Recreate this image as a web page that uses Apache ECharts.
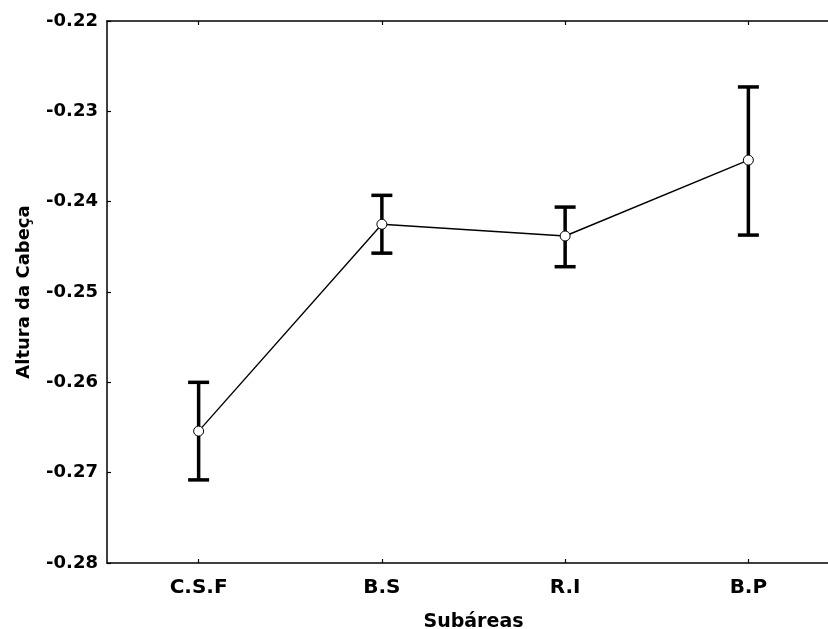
<!DOCTYPE html>
<html>
<head>
<meta charset="utf-8">
<style>
  html, body { margin: 0; padding: 0; background: #fff; }
  #chart { width: 828px; height: 629px; }
</style>
<script src="https://cdn.jsdelivr.net/npm/echarts@6/dist/echarts.min.js"></script>
</head>
<body>
<div id="chart"></div>
<script>
// Subareas along the horizontal axis
const categories = ['C.S.F', 'B.S', 'R.I', 'B.P'];
// Mean head height per subarea
const means = [-0.2654, -0.2425, -0.2438, -0.2354];
// Error-bar limits (upper and lower)
const upper = [-0.2600, -0.2393, -0.2406, -0.2273];
const lower = [-0.2708, -0.2457, -0.2472, -0.2437];

const FONT = '"DejaVu Sans", sans-serif';

const errorData = categories.map((c, i) => [i, lower[i], upper[i]]);

const chart = echarts.init(document.getElementById('chart'), null, { renderer: 'canvas' });

const axisLine = { show: true, lineStyle: { color: '#000', width: 1.5 } };

chart.setOption({
  animation: false,
  backgroundColor: '#fff',
  grid: { left: 107, top: 21, width: 733, height: 542, containLabel: false, outerBoundsMode: 'none' },
  xAxis: [
    {
      type: 'category',
      data: categories,
      position: 'bottom',
      boundaryGap: true,
      axisLine: axisLine,
      axisTick: { show: true, inside: true, length: 4, alignWithLabel: true, lineStyle: { color: '#000', width: 1.2 } },
      axisLabel: { color: '#000', fontFamily: FONT, fontWeight: 'bold', fontSize: 20, margin: 15 },
      splitLine: { show: false },
      name: 'Subáreas',
      nameLocation: 'middle',
      nameGap: 50,
      nameTextStyle: { color: '#000', fontFamily: FONT, fontWeight: 'bold', fontSize: 19 }
    },
    {
      type: 'category',
      data: categories,
      position: 'top',
      boundaryGap: true,
      axisLine: axisLine,
      axisTick: { show: true, inside: true, length: 4, alignWithLabel: true, lineStyle: { color: '#000', width: 1.2 } },
      axisLabel: { show: false },
      splitLine: { show: false }
    }
  ],
  yAxis: {
    type: 'value',
    min: -0.28,
    max: -0.22,
    interval: 0.01,
    axisLine: axisLine,
    axisTick: { show: true, inside: true, length: 4, lineStyle: { color: '#000', width: 1.2 } },
    axisLabel: {
      color: '#000', fontFamily: FONT, fontWeight: 'bold', fontSize: 18, margin: 9,
      formatter: v => v.toFixed(2)
    },
    splitLine: { show: false },
    name: 'Altura da Cabeça',
    nameLocation: 'middle',
    nameRotate: 90,
    nameGap: 74,
    nameTextStyle: { color: '#000', fontFamily: FONT, fontWeight: 'bold', fontSize: 18 }
  },
  series: [
    {
      type: 'custom',
      name: 'erro',
      z: 1,
      data: errorData,
      renderItem: function (params, api) {
        const i = api.value(0);
        const lo = api.coord([i, api.value(1)]);
        const hi = api.coord([i, api.value(2)]);
        const half = 10.5;
        const style = { stroke: '#000', lineWidth: 3.5, fill: null };
        return {
          type: 'group',
          children: [
            { type: 'line', shape: { x1: hi[0], y1: hi[1], x2: lo[0], y2: lo[1] }, style: style },
            { type: 'line', shape: { x1: hi[0] - half, y1: hi[1], x2: hi[0] + half, y2: hi[1] }, style: style },
            { type: 'line', shape: { x1: lo[0] - half, y1: lo[1], x2: lo[0] + half, y2: lo[1] }, style: style }
          ]
        };
      }
    },
    {
      type: 'line',
      name: 'média',
      z: 3,
      data: means,
      symbol: 'circle',
      symbolSize: 10,
      showAllSymbol: true,
      lineStyle: { color: '#000', width: 1.4 },
      itemStyle: { color: '#fff', borderColor: '#000', borderWidth: 1 }
    }
  ]
});
</script>
</body>
</html>
